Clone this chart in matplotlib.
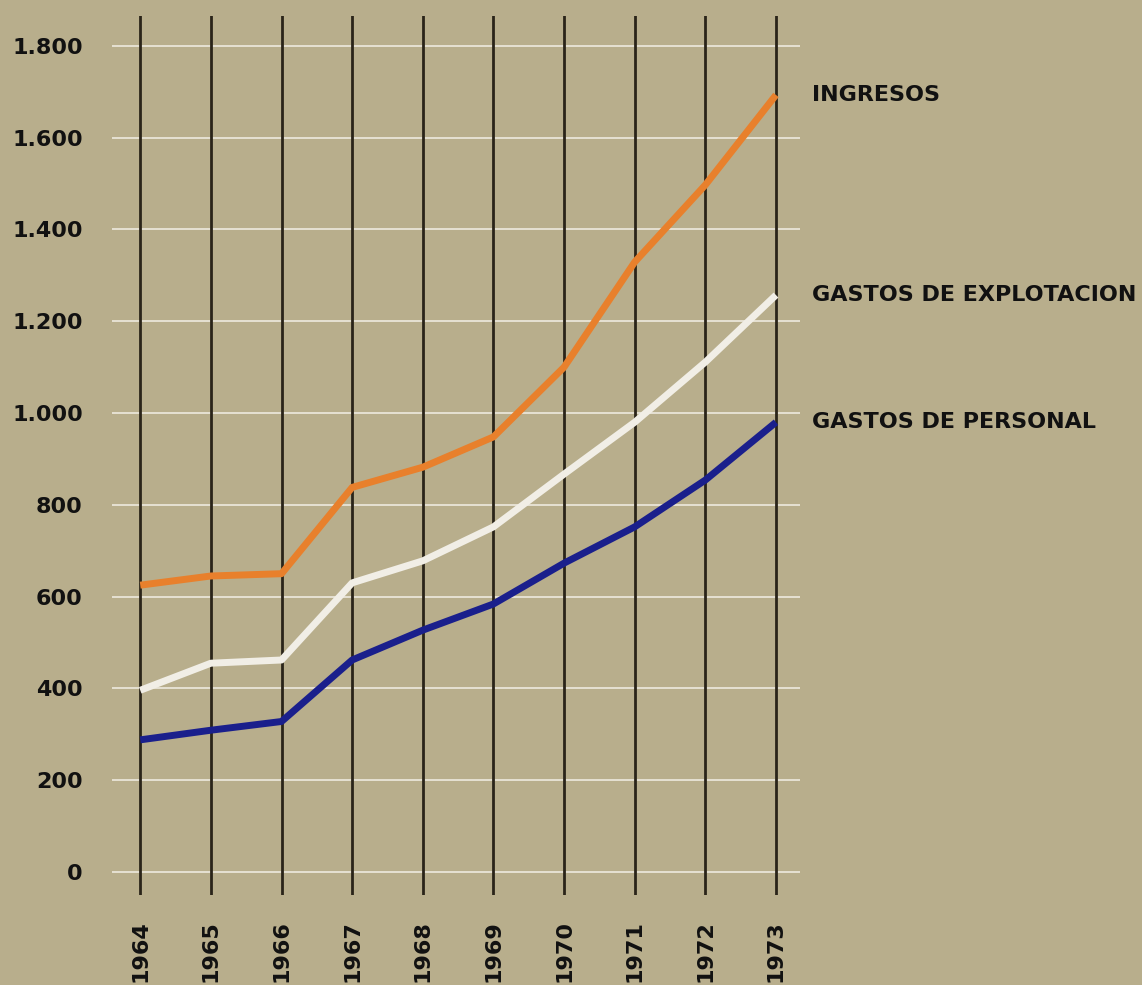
import matplotlib
matplotlib.use("Agg")
import matplotlib.pyplot as plt

years = [1964, 1965, 1966, 1967, 1968, 1969, 1970, 1971, 1972, 1973]
ingresos = [625, 645, 650, 838, 882, 948, 1100, 1329, 1497, 1693]
gastos_explotacion = [396, 455, 462, 630, 678, 752, 867, 980, 1111, 1257]
gastos_personal = [288, 309, 328, 462, 527, 584, 673, 752, 854, 980]
y_ticks = [0, 200, 400, 600, 800, 1000, 1200, 1400, 1600, 1800]
y_tick_labels = ["0", "200", "400", "600", "800", "1.000", "1.200", "1.400", "1.600", "1.800"]
series_names = ["INGRESOS", "GASTOS DE EXPLOTACION", "GASTOS DE PERSONAL"]

bg = "#b8ae8c"
fig = plt.figure(figsize=(11.42, 9.85), dpi=100, facecolor=bg)
ax = fig.add_axes([112/1142, 1 - 895/985, 688/1142, 879/985])
ax.set_facecolor(bg)
for s in ax.spines.values():
    s.set_visible(False)

ax.set_xlim(1963.6, 1973.34)
ax.set_ylim(-50, 1865)

# horizontal white grid lines
for v in y_ticks:
    ax.axhline(v, color="#e6e1d2", lw=1.4, zorder=1)
# vertical dark lines
for yr in years:
    ax.axvline(yr, color="#2a2419", lw=2.0, zorder=2)

colors = ["#e8802c", "#f1eee6", "#1a1f8c"]
for data, c in zip([ingresos, gastos_explotacion, gastos_personal], colors):
    ax.plot(years, data, color=c, lw=5, zorder=3, solid_capstyle="butt", solid_joinstyle="round")

font = "DejaVu Sans"
ax.set_yticks(y_ticks)
ax.set_yticklabels(y_tick_labels, fontsize=16, fontweight="bold", family=font, color="#111111")
ax.set_xticks(years)
ax.set_xticklabels([str(y) for y in years], rotation=90, fontsize=16, fontweight="bold",
                   family=font, color="#111111")
ax.tick_params(axis="y", length=0, pad=21)
ax.tick_params(axis="x", length=0, pad=18)

for name, data in zip(series_names, [ingresos, gastos_explotacion, gastos_personal]):
    ax.text(1.0174, data[-1], name, transform=ax.get_yaxis_transform(), fontsize=16,
            fontweight="bold", family=font, color="#111111", va="center", ha="left", clip_on=False)

fig.savefig("out.png", dpi=100, facecolor=bg)
